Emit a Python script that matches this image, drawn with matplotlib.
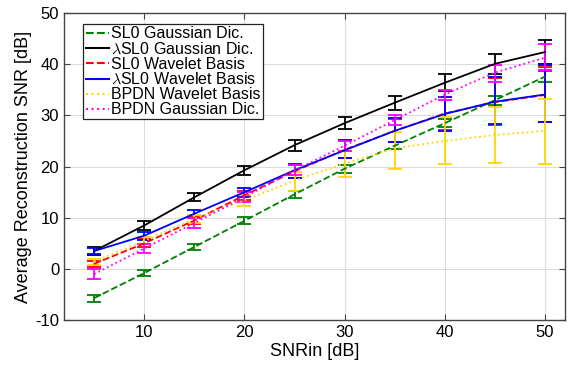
import numpy as np
import matplotlib
matplotlib.use('Agg')
import matplotlib.pyplot as plt
from matplotlib.lines import Line2D

plt.rcParams['font.family'] = ['Liberation Sans', 'DejaVu Sans']
plt.rcParams['mathtext.fontset'] = 'cm'
plt.rcParams['axes.unicode_minus'] = False

snr_in = [5, 10, 15, 20, 25, 30, 35, 40, 45, 50]

# mean SNR per method
sl0_gauss = [-5.7, -0.8, 4.3, 9.4, 14.6, 19.6, 24.1, 28.5, 33.0, 37.6]
lsl0_gauss = [3.5, 8.5, 14.0, 19.3, 24.2, 28.5, 32.5, 36.4, 40.1, 42.4]
sl0_wav = [1.0, 5.0, 9.5, 14.4, 19.1, 23.3, 27.0, 30.4, 32.6, 34.0]
lsl0_wav = [3.5, 6.5, 10.8, 15.0, 19.3, 23.2, 27.0, 30.3, 32.7, 34.1]
bpdn_wav = [1.4, 5.5, 9.8, 13.4, 17.3, 20.6, 23.6, 25.0, 26.2, 27.0]
bpdn_gauss = [-1.0, 4.0, 9.0, 14.0, 19.3, 24.1, 29.1, 34.1, 38.4, 41.3]

# error bars (lower, upper)
sl0_gauss_lo = [0.7, 0.6, 0.6, 0.7, 0.7, 0.8, 0.7, 0.8, 0.9, 1.0]
sl0_gauss_hi = [0.7, 0.6, 0.6, 0.7, 0.7, 0.8, 0.7, 0.8, 0.9, 1.0]
lsl0_gauss_lo = [0.7, 0.8, 0.8, 0.9, 1.1, 1.2, 1.4, 1.7, 2.0, 2.3]
lsl0_gauss_hi = [0.7, 0.8, 0.8, 0.9, 1.1, 1.2, 1.4, 1.7, 2.0, 2.3]
sl0_wav_lo = [0.6, 0.8, 0.8, 0.9, 1.4, 1.6, 2.2, 3.2, 4.4, 5.3]
sl0_wav_hi = [0.6, 0.8, 0.8, 0.9, 1.3, 1.9, 2.4, 3.3, 4.8, 5.5]
lsl0_wav_lo = [0.6, 0.8, 0.8, 0.9, 1.5, 1.6, 2.2, 3.3, 4.4, 5.4]
lsl0_wav_hi = [0.6, 0.8, 0.8, 0.9, 1.3, 2.0, 2.5, 3.4, 4.9, 5.7]
bpdn_wav_lo = [0.6, 0.7, 0.8, 1.0, 2.1, 2.7, 4.0, 4.5, 5.5, 6.4]
bpdn_wav_hi = [0.6, 0.7, 0.8, 1.0, 1.6, 2.4, 3.1, 4.7, 5.5, 6.3]
bpdn_gauss_lo = [1.0, 0.9, 0.9, 1.0, 1.0, 1.0, 1.0, 1.1, 1.8, 2.5]
bpdn_gauss_hi = [1.0, 0.9, 0.9, 1.0, 1.0, 1.0, 1.0, 0.9, 1.4, 2.7]

series = [
    (sl0_gauss, sl0_gauss_lo, sl0_gauss_hi, '#008000', '--', 'SL0 Gaussian Dic.'),
    (lsl0_gauss, lsl0_gauss_lo, lsl0_gauss_hi, 'k', '-', r'$\lambda$SL0 Gaussian Dic.'),
    (sl0_wav, sl0_wav_lo, sl0_wav_hi, 'r', '--', 'SL0 Wavelet Basis'),
    (lsl0_wav, lsl0_wav_lo, lsl0_wav_hi, 'b', '-', r'$\lambda$SL0 Wavelet Basis'),
    (bpdn_wav, bpdn_wav_lo, bpdn_wav_hi, '#FFD700', ':', 'BPDN Wavelet Basis'),
    (bpdn_gauss, bpdn_gauss_lo, bpdn_gauss_hi, 'magenta', ':', 'BPDN Gaussian Dic.'),
]

fig = plt.figure(figsize=(5.72, 3.65), dpi=100)
ax = fig.add_axes([0.112, 0.123, 0.876, 0.841])

handles = []
for y, lo, hi, c, ls, lab in series:
    ax.errorbar(snr_in, y, yerr=[lo, hi], color=c, linestyle=ls, linewidth=1.3,
                elinewidth=1.3, capsize=5, capthick=1.3)
    handles.append(Line2D([], [], color=c, linestyle=ls, linewidth=1.5, label=lab))

ax.set_xlim(2, 52)
ax.set_ylim(-10, 50)
ax.set_xticks([10, 20, 30, 40, 50])
ax.set_yticks(np.arange(-10, 51, 10))
ax.grid(True, color='#dcdcdc', linewidth=0.8)
ax.set_axisbelow(True)
ax.tick_params(direction='in', top=True, right=True, labelsize=12, length=4,
               color='#444444')
for s in ax.spines.values():
    s.set_color('#444444')
    s.set_linewidth(1.0)

ax.set_xlabel('SNRin [dB]', fontsize=13, labelpad=2)
ax.set_ylabel('Average Reconstruction SNR [dB]', fontsize=13, labelpad=2)

leg = ax.legend(handles=handles, loc='upper left', fontsize=11.5,
                handlelength=1.5, handletextpad=0.1, borderpad=0.15,
                labelspacing=0.0, fancybox=False, framealpha=1,
                edgecolor='#222222', bbox_to_anchor=(0.038, 0.965),
                borderaxespad=0.0)
leg.get_frame().set_linewidth(0.9)

fig.savefig('out.png', dpi=100)
